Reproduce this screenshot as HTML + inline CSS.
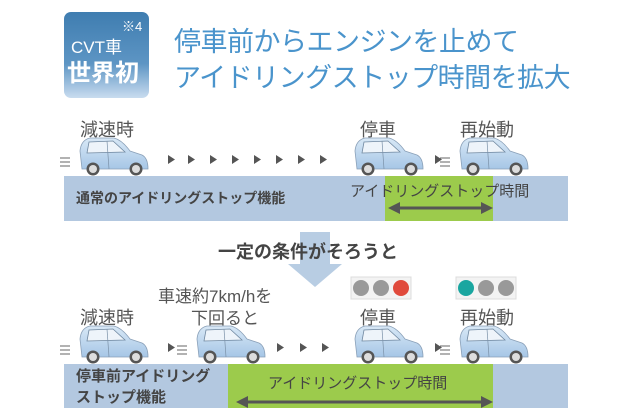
<!DOCTYPE html>
<html><head><meta charset="utf-8"><style>
body{margin:0;width:630px;height:420px;background:#fff;overflow:hidden;position:relative;font-family:"Liberation Sans","Noto Sans CJK JP",sans-serif;}
.a{position:absolute;white-space:nowrap;}
</style></head><body>
<svg width="630" height="420" style="position:absolute;left:0;top:0">
<defs>
<linearGradient id="bg" x1="0" y1="0" x2="0" y2="1"><stop offset="0" stop-color="#3f7db0"/><stop offset="0.6" stop-color="#5d95c4"/><stop offset="1" stop-color="#c9dcef"/></linearGradient>
<linearGradient id="cg" x1="0" y1="0" x2="0" y2="1"><stop offset="0" stop-color="#d8e8f6"/><stop offset="1" stop-color="#a6c6e6"/></linearGradient>
<g id="car">
<path d="M14 32 L12 14 Q13 3 22 1 L46 1 Q54 3 62 14 L74 18 Q80 21 80 32 Z" fill="url(#cg)" stroke="#8aa0b8" stroke-width="0.8"/>
<path d="M21 5 L45 4 L57 15 L19 16 Z" fill="#eef4fa" stroke="#7088a0" stroke-width="0.8"/>
<line x1="39" y1="4" x2="41" y2="32" stroke="#7a90a8" stroke-width="0.7"/>
<circle cx="25" cy="32" r="6.5" fill="#555"/><circle cx="25" cy="32" r="4" fill="#ddd"/>
<circle cx="68" cy="32" r="6.5" fill="#555"/><circle cx="68" cy="32" r="4" fill="#ddd"/>
</g>
<g id="spd"><line x1="0" y1="0" x2="10" y2="0" stroke="#666"/><line x1="0" y1="4" x2="10" y2="4" stroke="#666"/><line x1="0" y1="8" x2="10" y2="8" stroke="#666"/></g>
<polygon id="tri" points="0,0 7,4.5 0,9" fill="#555"/>
</defs>
<rect x="64" y="12" width="85" height="86" rx="7" fill="url(#bg)"/>
<rect x="64" y="176" width="504" height="45" fill="#b3c8e0"/>
<rect x="385" y="176" width="108" height="45" fill="#9ccb4c"/>
<line x1="398" y1="208" x2="481" y2="208" stroke="#555" stroke-width="3"/>
<polygon points="388,208 400,202 400,214" fill="#555"/><polygon points="493,208 481,202 481,214" fill="#555"/>
<rect x="64" y="364" width="504" height="44" fill="#b3c8e0"/>
<rect x="228" y="364" width="265" height="44" fill="#9ccb4c"/>
<line x1="245" y1="402" x2="481" y2="402" stroke="#555" stroke-width="3"/>
<polygon points="236,402 248,396 248,408 " fill="#555"/><polygon points="493,402 481,396 481,408" fill="#555"/>
<rect x="300" y="232" width="30" height="32" fill="#b8cde3"/>
<polygon points="288,264 342,264 315,287" fill="#b8cde3"/>
<use href="#car" x="68" y="137"/><use href="#spd" x="60" y="158"/>
<use href="#car" x="343" y="137"/>
<use href="#car" x="448" y="137"/><use href="#spd" x="440" y="158"/>
<use href="#tri" x="168" y="155"/><use href="#tri" x="188" y="155"/><use href="#tri" x="210" y="155"/><use href="#tri" x="232" y="155"/><use href="#tri" x="254" y="155"/><use href="#tri" x="276" y="155"/><use href="#tri" x="298" y="155"/><use href="#tri" x="320" y="155"/><use href="#tri" x="435" y="155"/>
<use href="#car" x="68" y="325"/><use href="#spd" x="60" y="346"/>
<use href="#car" x="185" y="325"/><use href="#spd" x="177" y="346"/>
<use href="#car" x="343" y="325"/>
<use href="#car" x="448" y="325"/><use href="#spd" x="440" y="346"/>
<use href="#tri" x="168" y="343"/><use href="#tri" x="277" y="343"/><use href="#tri" x="300" y="343"/><use href="#tri" x="322" y="343"/><use href="#tri" x="435" y="343"/>
<rect x="351" y="277" width="60" height="22" fill="#f3f3f3" stroke="#ddd"/>
<circle cx="361" cy="288" r="8" fill="#999"/><circle cx="381" cy="288" r="8" fill="#999"/><circle cx="401" cy="288" r="8" fill="#e04a3c"/>
<rect x="456" y="277" width="60" height="22" fill="#f3f3f3" stroke="#ddd"/>
<circle cx="466" cy="288" r="8" fill="#1aa6a0"/><circle cx="486" cy="288" r="8" fill="#999"/><circle cx="506" cy="288" r="8" fill="#999"/>
</svg>
<div class="a" style="left:122px;top:16px;font-size:13px;color:#fff">※4</div>
<div class="a" style="left:71px;top:33px;font-size:17px;color:#fff">CVT車</div>
<div class="a" style="left:67px;top:53px;font-size:24px;font-weight:bold;color:#fff">世界初</div>
<div class="a" style="left:174px;top:20px;font-size:27px;color:#4a94cc;letter-spacing:-0.5px">停車前からエンジンを止めて</div>
<div class="a" style="left:174px;top:56px;font-size:27px;color:#4a94cc;letter-spacing:-0.5px">アイドリングストップ時間を拡大</div>
<div class="a" style="left:80px;top:116px;font-size:18px;color:#555">減速時</div>
<div class="a" style="left:360px;top:116px;font-size:18px;color:#555">停車</div>
<div class="a" style="left:460px;top:116px;font-size:18px;color:#555">再始動</div>
<div class="a" style="left:76px;top:188px;font-size:14px;font-weight:bold;color:#444">通常のアイドリングストップ機能</div>
<div class="a" style="left:350px;top:180px;font-size:15px;color:#444">アイドリングストップ時間</div>
<div class="a" style="left:218px;top:238px;font-size:18px;font-weight:bold;color:#444">一定の条件がそろうと</div>
<div class="a" style="left:158px;top:282px;font-size:17px;color:#555">車速約7km/hを</div>
<div class="a" style="left:191px;top:304px;font-size:17px;color:#555">下回ると</div>
<div class="a" style="left:80px;top:304px;font-size:18px;color:#555">減速時</div>
<div class="a" style="left:360px;top:304px;font-size:18px;color:#555">停車</div>
<div class="a" style="left:460px;top:304px;font-size:18px;color:#555">再始動</div>
<div class="a" style="left:76px;top:366px;font-size:15px;font-weight:bold;color:#444;line-height:21px">停車前アイドリング<br>ストップ機能</div>
<div class="a" style="left:268px;top:372px;font-size:15px;color:#444">アイドリングストップ時間</div>
</body></html>
